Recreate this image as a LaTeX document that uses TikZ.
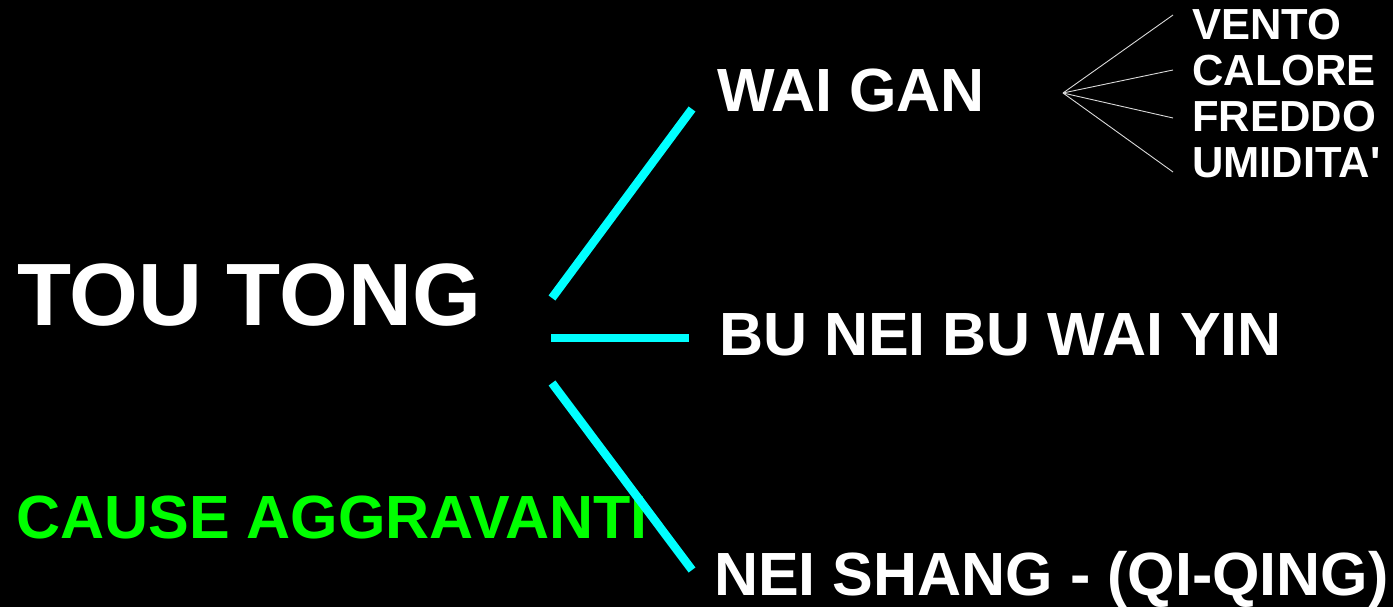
\documentclass[tikz,border=0pt]{standalone}
\usepackage{fontspec}
\setmainfont{Liberation Sans}
\definecolor{cyanline}{RGB}{0,255,255}
\definecolor{limegreen}{RGB}{0,255,0}
\tikzset{
  lbl/.style={anchor=base west, inner sep=0pt, text=white, font=\bfseries\fontsize{#1}{#1}\selectfont},
  branch/.style={draw=cyanline, line width=8.5pt, line cap=butt},
  fan/.style={draw=white!85!black, line width=0.9pt},
}
\begin{document}
\begin{tikzpicture}[x=1pt,y=-1pt]
\fill[black] (0,0) rectangle (1393,607);
\useasboundingbox (0,0) rectangle (1393,607);
% labels
\node[lbl=88.5] (tou) at (17,325) {TOU TONG};
\node[lbl=61, text=limegreen] (cause) at (16,538) {CAUSE AGGRAVANTI};
\node[lbl=61] (wai) at (717,112) {WAI GAN};
\node[lbl=61] (bunei) at (719,355) {BU NEI BU WAI YIN};
\node[lbl=61] (nei) at (714,595) {NEI SHANG - (QI-QING)};
\node[lbl=43.5] (vento) at (1192,40) {VENTO};
\node[lbl=43.5] (calore) at (1192,86) {CALORE};
\node[lbl=43.5] (freddo) at (1192,132) {FREDDO};
\node[lbl=43.5] (umid) at (1192,178) {UMIDITA\textquotesingle};
% branch coordinates
\coordinate (a1) at (552,298); \coordinate (b1) at (692,109);
\coordinate (a2) at (551,338); \coordinate (b2) at (689,338);
\coordinate (a3) at (552,383); \coordinate (b3) at (692,570);
\draw[branch] (a1) -- (b1);
\draw[branch] (a2) -- (b2);
\draw[branch] (a3) -- (b3);
% fan
\coordinate (hub) at (1063,93);
\coordinate (f1) at (1173,15);
\coordinate (f2) at (1173,70);
\coordinate (f3) at (1173,118);
\coordinate (f4) at (1173,172);
\draw[fan] (hub) -- (f1);
\draw[fan] (hub) -- (f2);
\draw[fan] (hub) -- (f3);
\draw[fan] (hub) -- (f4);
\end{tikzpicture}
\end{document}
